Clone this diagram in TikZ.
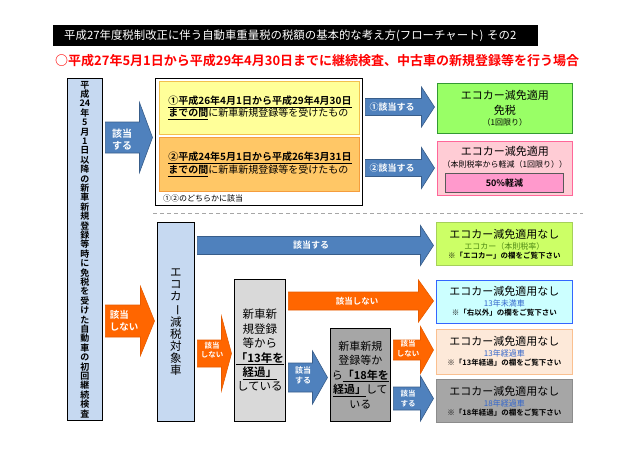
\documentclass[tikz,border=0pt]{standalone}
\usepackage{fontspec}
\setmainfont{Noto Sans CJK JP}[BoldFont={Noto Sans CJK JP Bold}]
\usetikzlibrary{calc,positioning}

\definecolor{colblue}{HTML}{C6D9F1}
\definecolor{arrblue}{HTML}{4F81BD}
\definecolor{arrblueline}{HTML}{385D8A}
\definecolor{arrorange}{HTML}{FF6600}
\definecolor{arrorangeline}{HTML}{E65C00}
\definecolor{yfill}{HTML}{FFFF99}
\definecolor{yline}{HTML}{F2C14E}
\definecolor{ofill}{HTML}{FFC766}
\definecolor{oline}{HTML}{F59D3D}
\definecolor{gfill}{HTML}{99FF66}
\definecolor{gline}{HTML}{339933}
\definecolor{pfill}{HTML}{FFCCD5}
\definecolor{pline}{HTML}{FF6699}
\definecolor{mfill}{HTML}{FF99CC}
\definecolor{lgfill}{HTML}{CCFF66}
\definecolor{lgline}{HTML}{A6D05A}
\definecolor{cfill}{HTML}{CCFFFF}
\definecolor{cline}{HTML}{3366FF}
\definecolor{pcfill}{HTML}{FDE9D9}
\definecolor{pcline}{HTML}{FAC090}
\definecolor{dgfill}{HTML}{A6A6A6}
\definecolor{dgline}{HTML}{8C8C8C}
\definecolor{lgray}{HTML}{D9D9D9}
\definecolor{ecogreen}{HTML}{4E8A14}
\definecolor{noteblue}{HTML}{3366CC}

\newcommand{\fsz}[1]{\fontsize{#1}{#1}\selectfont}
% block arrow: style, tail point, tip point, body half, head half, head length
\newcommand{\blockarrow}[6]{%
  \draw[#1] let \p1=(#2), \p2=(#3) in
    (\x1+2.5pt,\y1+#4) -- (\x2-2.5pt-#6,\y1+#4) -- (\x2-2.5pt-#6,\y1+#5)
    -- (\x2-2.5pt,\y1) -- (\x2-2.5pt-#6,\y1-#5) -- (\x2-2.5pt-#6,\y1-#4)
    -- (\x1+2.5pt,\y1-#4) -- cycle;}

\begin{document}
\begin{tikzpicture}[x=1pt,y=-1pt,node distance=5pt,
    box/.style={draw,line width=0.8pt,anchor=north west,inner sep=0pt,align=center},
    column box/.style={box,fill=colblue},
    result box/.style={box,minimum width=136pt,minimum height=43pt,font=\fontsize{11}{11}\selectfont},
    blue arrow/.style={fill=arrblue,draw=arrblueline,line width=0.6pt},
    orange arrow/.style={fill=arrorange,draw=arrorangeline,line width=0.6pt},
    arrow text/.style={text=white,inner sep=0pt,align=center}]
\useasboundingbox (0,0) rectangle (640,450);

% heading
\node[fill=black,text=white,anchor=north west,minimum width=485pt,minimum height=21pt,
  inner xsep=11pt,inner ysep=0pt,text width=463pt,align=left,
  font=\fontsize{11.4}{12}\selectfont] (title) at (53,25)
  {\mbox{平成27年度税制改正に伴う自動車重量税の税額の基本的な考え方(フローチャート)\ その2}};
\node[anchor=west,inner sep=0pt,text=red,font=\bfseries\fsz{13}] (subtitle) at (55,61)
  {○平成27年5月1日から平成29年4月30日までに継続検査、中古車の新規登録等を行う場合};

% left column
\node[column box,minimum width=35pt,minimum height=342pt,
  font=\bfseries\fontsize{9}{9.4}\selectfont] (lcol) at (67,78)
  {平\\成\\24\\年\\5\\月\\1\\日\\以\\降\\の\\新\\車\\新\\規\\登\\録\\等\\時\\に\\免\\税\\を\\受\\け\\た\\自\\動\\車\\の\\初\\回\\継\\続\\検\\査};

% upper part
\node[box,fill=white,minimum width=207pt,minimum height=127pt] (outer) at (155,78) {};
\node[box,draw=yline,fill=yfill,minimum width=200pt,minimum height=53pt,text width=182pt,
  align=left,font=\fontsize{10}{12.5}\selectfont] (first) at (159,81)
  {\textbf{\underline{①平成26年4月1日から平成29年4月30日}}\\\textbf{\underline{までの間}}に新車新規登録等を受けたもの};
\node[box,draw=oline,fill=ofill,minimum width=200pt,minimum height=54pt,text width=182pt,
  align=left,font=\fontsize{10}{12.5}\selectfont] (second) at (159,137)
  {\textbf{\underline{②平成24年5月1日から平成26年3月31日}}\\\textbf{\underline{までの間}}に新車新規登録等を受けたもの};
\node[anchor=west,inner sep=0pt,font=\fsz{8}] (either) at (163,198) {①②のどちらかに該当};

\node[box,draw=gline,fill=gfill,minimum width=135pt,minimum height=50pt,
  font=\fontsize{11}{14}\selectfont] (free) at (437,83)
  {エコカー減免適用\\[1pt]免税\\[-3pt]{\fsz{8}（1回限り）}};
\node[box,draw=pline,fill=pfill,minimum width=135pt,minimum height=54pt] (half) at (437,141) {};
\node[anchor=north,inner sep=0pt,align=center,font=\fontsize{11}{12.5}\selectfont] (halftext)
  at ($(half.north)+(0,5)$) {エコカー減免適用\\{\fsz{8}（本則税率から軽減（1回限り））}};
\node[box,draw=black!65,fill=mfill,minimum width=118pt,minimum height=19pt,
  font=\bfseries\fsz{9}] (fifty) at (445,173) {50\%軽減};

\draw[gray!70,line width=0.8pt,dash pattern=on 4pt off 3pt] (153,213) -- (583,213);

% lower part
\node[column box,minimum width=37pt,minimum height=199pt,
  font=\fontsize{11.5}{12}\selectfont] (eco) at (157,222)
  {エ\\コ\\カ\\\rotatebox[origin=c]{-90}{ー}\\減\\税\\対\\象\\車};
\node[box,fill=lgray,minimum width=51pt,minimum height=142pt,
  font=\fontsize{11.5}{14.4}\selectfont] (yr13) at (234,279)
  {新車新\\規登録\\等から\\\textbf{\underline{「13年を}}\\\textbf{\underline{経過」}}\\している};
\node[box,fill=dgfill,minimum width=60pt,minimum height=93pt,
  font=\fontsize{11}{14.5}\selectfont] (yr18) at (330,328)
  {新車新規\\登録等か\\ら\textbf{\underline{「18年を}}\\\textbf{\underline{経過」}}して\\いる};

\node[result box,draw=lgline,fill=lgfill] (ecorate) at (436,222)
  {エコカー減免適用なし\\{\color{ecogreen}\fsz{8}エコカー（本則税率）}\\[-2pt]{\bfseries\fsz{7.5}※「エコカー」の欄をご覧下さい}};
\node[result box,draw=cline,fill=cfill,below=14pt of ecorate] (under13)
  {エコカー減免適用なし\\{\color{noteblue}\fsz{8}13年未満車}\\[-2pt]{\bfseries\fsz{7.5}※「右以外」の欄をご覧下さい}};
\node[result box,draw=pcline,fill=pcfill,minimum height=45pt,below=of under13] (past13)
  {エコカー減免適用なし\\{\color{noteblue}\fsz{8}13年経過車}\\[-2pt]{\bfseries\fsz{7.5}※「13年経過」の欄をご覧下さい}};
\node[result box,draw=dgline,fill=dgfill,below=of past13] (past18)
  {エコカー減免適用なし\\{\color{noteblue}\fsz{8}18年経過車}\\[-2pt]{\bfseries\fsz{7.5}※「18年経過」の欄をご覧下さい}};

% arrows
\blockarrow{blue arrow}{lcol.east |- 0,137.5}{outer.west |- 0,137.5}{15.5pt}{35pt}{13pt}
\blockarrow{blue arrow}{outer.east |- 0,107}{free.west |- 0,107}{8.5pt}{20pt}{13pt}
\blockarrow{blue arrow}{outer.east |- 0,168}{half.west |- 0,168}{8.5pt}{20.5pt}{13pt}
\blockarrow{orange arrow}{lcol.east |- 0,321}{eco.west |- 0,321}{16pt}{34.5pt}{14pt}
\blockarrow{blue arrow}{eco.east |- 0,245.5}{ecorate.west |- 0,245.5}{9pt}{20pt}{13pt}
\blockarrow{orange arrow}{eco.east |- 0,353.5}{yr13.west |- 0,353.5}{13.5pt}{37pt}{10pt}
\blockarrow{orange arrow}{yr13.east |- 0,301}{under13.west |- 0,301}{9pt}{21pt}{15pt}
\blockarrow{blue arrow}{yr13.east |- 0,377.5}{yr18.west |- 0,377.5}{14.5pt}{26.5pt}{15pt}
\blockarrow{orange arrow}{yr18.east |- 0,350}{past13.west |- 0,350}{10pt}{23.5pt}{13pt}
\blockarrow{blue arrow}{yr18.east |- 0,398.5}{past18.west |- 0,398.5}{11.5pt}{22.5pt}{13pt}

\node[arrow text,font=\bfseries\fontsize{10}{12}\selectfont] (yes0) at (122,140) {該当\\する};
\node[arrow text,font=\bfseries\fsz{9}] (yes1) at (392,107) {①該当する};
\node[arrow text,font=\bfseries\fsz{9}] (yes2) at (392,168) {②該当する};
\node[arrow text,align=left,font=\bfseries\fontsize{9.5}{12}\selectfont] (no0) at (124,321) {該当\\しない};
\node[arrow text,font=\bfseries\fsz{9}] (yeseco) at (311,245) {該当する};
\node[arrow text,font=\bfseries\fontsize{7.5}{9}\selectfont] (noeco) at (212,350.5) {該当\\しない};
\node[arrow text,font=\bfseries\fsz{8.5}] (no13) at (357,301) {該当しない};
\node[arrow text,font=\bfseries\fontsize{8}{10}\selectfont] (yes13) at (303,375) {該当\\する};
\node[arrow text,font=\bfseries\fontsize{7.5}{10}\selectfont] (no18) at (408,348.5) {該当\\しない};
\node[arrow text,font=\bfseries\fontsize{7.5}{10}\selectfont] (yes18) at (408,398.5) {該当\\する};
\end{tikzpicture}
\end{document}
